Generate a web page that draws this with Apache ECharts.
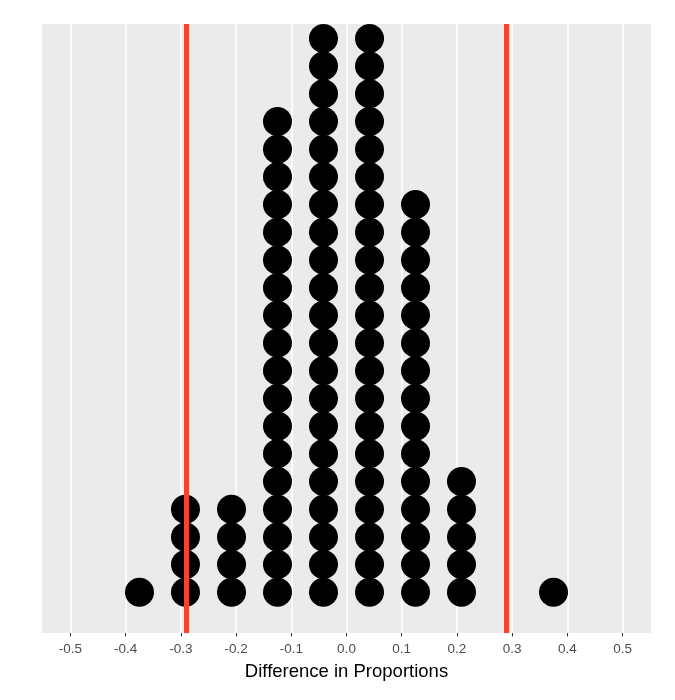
<!DOCTYPE html>
<html>
<head>
<meta charset="utf-8">
<script src="https://cdn.jsdelivr.net/npm/echarts@6/dist/echarts.min.js"></script>
<style>
  html, body { margin: 0; padding: 0; background: #fff; }
  #dotplot { width: 675px; height: 700px; }
</style>
</head>
<body>
<div id="dotplot"></div>
<script>
// bin centres (width 1/12) and how many dots sit in each bin
var binCenters = [-0.375, -0.2917, -0.2083, -0.125, -0.0417, 0.0417, 0.125, 0.2083, 0.375];
var binCounts = [1, 4, 4, 18, 21, 21, 15, 5, 1];
var cutoffs = [-0.2925, 0.2925];
var tickValues = [-0.5, -0.4, -0.3, -0.2, -0.1, 0, 0.1, 0.2, 0.3, 0.4, 0.5];

var dots = [];
for (var i = 0; i < binCenters.length; i++) {
	for (var k = 0; k < binCounts[i]; k++) {
		dots.push([binCenters[i], k]);
	}
}

var myChart = echarts.init(document.getElementById("dotplot"));
var option = {
	backgroundColor: '#ffffff',
	animation: false,
	grid: {
		left: 42,
		right: 24,
		top: 24,
		bottom: 67,
		show: true,
		backgroundColor: '#EBEBEB',
		borderWidth: 0
	},
	xAxis: {
		type: 'value',
		min: -0.5516,
		max: 0.5516,
		name: 'Difference in Proportions',
		nameLocation: 'middle',
		nameGap: 29,
		nameTextStyle: {
			color: '#000000',
			fontSize: 18.5,
			fontFamily: 'Liberation Sans'
		},
		axisLine: { show: false, onZero: false },
		axisTick: {
			show: true,
			length: 3.5,
			lineStyle: { color: '#333333', width: 1 },
			customValues: tickValues
		},
		axisLabel: {
			color: '#4D4D4D',
			fontSize: 13.5,
			fontFamily: 'Liberation Sans',
			margin: 9,
			customValues: tickValues,
			formatter: function (v) {
				return v.toFixed(1);
			}
		},
		splitLine: {
			show: true,
			lineStyle: { color: '#ffffff', width: 1.5 }
		}
	},
	yAxis: {
		type: 'value',
		min: -1.47,
		max: 20.52,
		show: false,
		splitLine: { show: false }
	},
	series: [
		{
			type: 'scatter',
			data: dots,
			symbol: 'circle',
			symbolSize: 29,
			itemStyle: { color: '#000000', opacity: 1 },
			z: 3
		},
		{
			type: 'line',
			data: [],
			z: 4,
			markLine: {
				symbol: 'none',
				silent: true,
				label: { show: false },
				lineStyle: { color: '#F2462B', width: 5, type: 'solid', opacity: 1 },
				data: cutoffs.map(function (c) { return { xAxis: c }; })
			}
		}
	]
};
myChart.setOption(option, true);
</script>
</body>
</html>
